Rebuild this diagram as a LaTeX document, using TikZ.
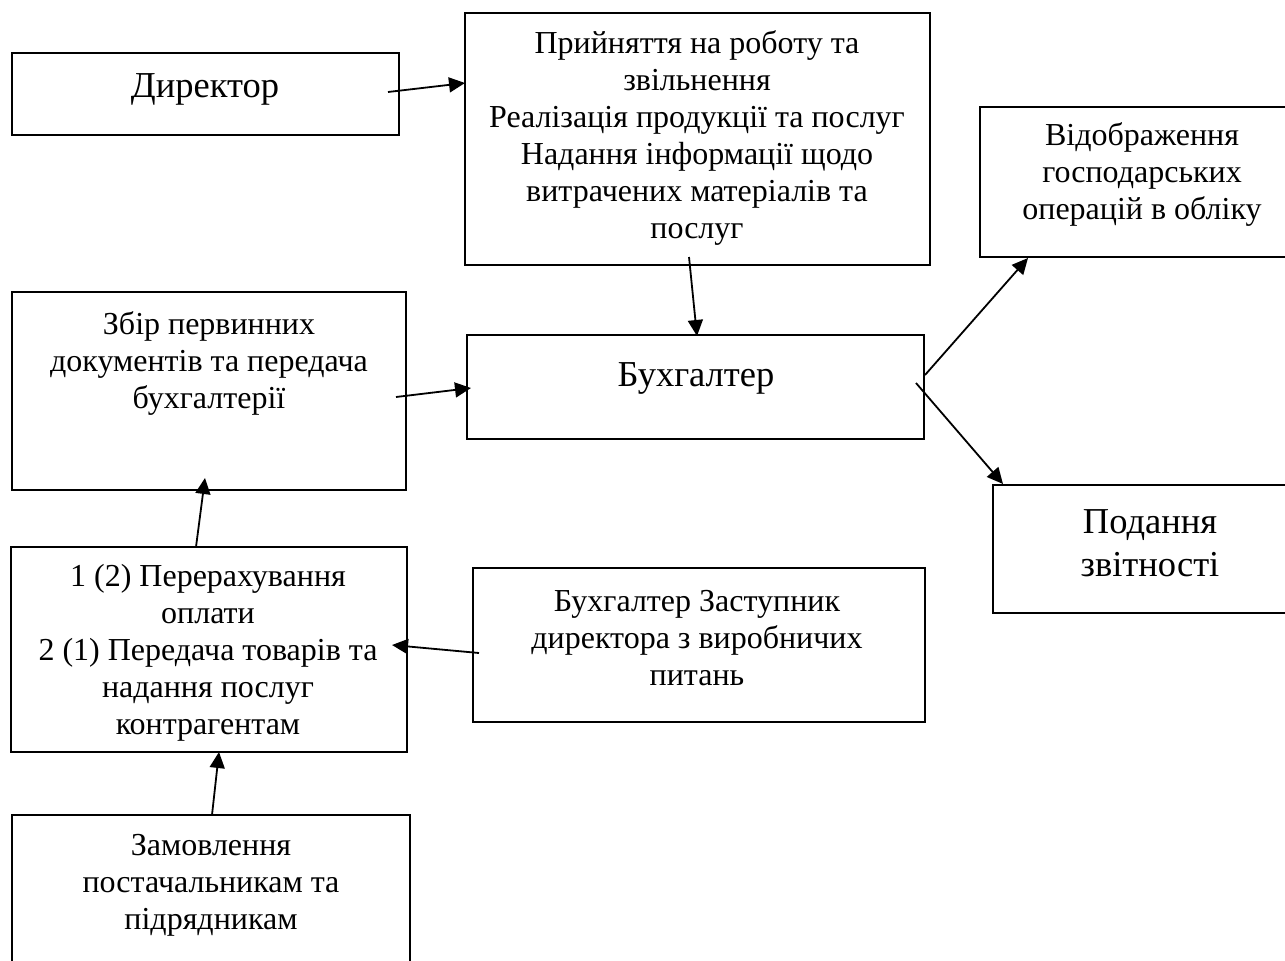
\documentclass[tikz,border=0pt]{standalone}
\usepackage{fontspec}
\setmainfont{Liberation Serif}
\usetikzlibrary{arrows.meta}
\tikzset{
  box/.style={draw=black, line width=2.2pt, fill=white, inner sep=0pt, outer sep=0pt, anchor=north west},
  small/.style={align=center, inner sep=0pt, anchor=base, font=\fontsize{32}{37}\selectfont},
  big/.style={align=center, inner sep=0pt, anchor=base, font=\fontsize{36.5}{43}\selectfont},
  conn/.style={line width=1.8pt, -{Triangle[length=16pt,width=15pt]}}
}
\begin{document}
\begin{tikzpicture}[x=1pt,y=-1pt]
\useasboundingbox (0,0) rectangle (1285,961);
\clip (0,0) rectangle (1285,961);
\fill[white] (0,0) rectangle (1285,961);
% boxes
\node[box, minimum width=387pt, minimum height=82pt] (dir) at (12,53) {};
\node[box, minimum width=465pt, minimum height=252pt] (top) at (465,13) {};
\node[box, minimum width=326pt, minimum height=150pt] (vid) at (980,107) {};
\node[box, minimum width=394pt, minimum height=198pt] (zbir) at (12,292) {};
\node[box, minimum width=457pt, minimum height=104pt] (buh) at (467,335) {};
\node[box, minimum width=314pt, minimum height=128pt] (pod) at (993,485) {};
\node[box, minimum width=396pt, minimum height=205pt] (opl) at (11,547) {};
\node[box, minimum width=452pt, minimum height=154pt] (zast) at (473,568) {};
\node[box, minimum width=398pt, minimum height=170pt] (zam) at (12,815) {};
% texts (anchor = baseline of last line)
\node[big] (tdir) at (205,97) {Директор};
\node[small] (ttop) at (697,238) {Прийняття на роботу та\\звільнення\\Реалізація продукції та послуг\\Надання інформації щодо\\витрачених матеріалів та\\послуг};
\node[small] (tvid) at (1142,219) {Відображення\\господарських\\операцій в обліку};
\node[small] (tzbir) at (209,408) {Збір первинних\\документів та передача\\бухгалтерії};
\node[big] (tbuh) at (696,386) {Бухгалтер};
\node[big] (tpod) at (1150,576) {Подання\\звітності};
\node[small] (topl) at (208,734) {1 (2) Перерахування\\оплати\\2 (1) Передача товарів та\\надання послуг\\контрагентам};
\node[small] (tzast) at (697,685) {Бухгалтер Заступник\\директора з виробничих\\питань};
\node[small] (tzam) at (211,929) {Замовлення\\постачальникам та\\підрядникам};
% connectors
\draw[conn] ([shift={(-11,-2)}]dir.east) -- ([shift={(0,70)}]top.north west);
\draw[conn] ([shift={(-8.5,-8)}]top.south) -- ([shift={(1.5,1)}]buh.north);
\draw[conn] ([shift={(-10,6)}]zbir.east) -- ([shift={(4,1)}]buh.west);
\draw[conn] ([shift={(1,-12)}]buh.east) -- ([shift={(48,1)}]vid.south west);
\draw[conn] ([shift={(-8,-4)}]buh.east) -- ([shift={(10,-1)}]pod.north west);
\draw[conn] ([shift={(-13,0)}]opl.north) -- ([shift={(-4,-12)}]zbir.south);
\draw[conn] ([shift={(6,8)}]zast.west) -- ([shift={(-15,-4.5)}]opl.east);
\draw[conn] ([shift={(1,0)}]zam.north) -- ([shift={(10,0)}]opl.south);
\end{tikzpicture}
\end{document}
